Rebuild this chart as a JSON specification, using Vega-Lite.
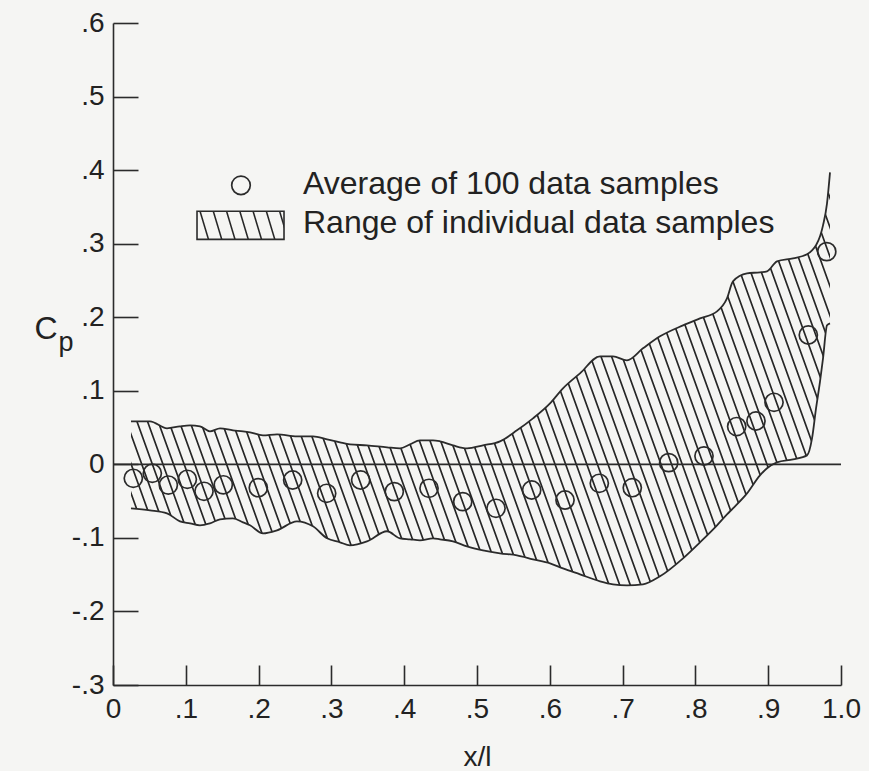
{
  "$schema": "https://vega.github.io/schema/vega-lite/v6.json",
  "width": 728,
  "height": 662,
  "autosize": {"type": "none"},
  "padding": {"left": 113, "top": 23, "right": 28, "bottom": 86},
  "background": "#f5f5f3",
  "data": {"values": [{}]},
  "config": {
    "view": {"stroke": null},
    "font": "Liberation Sans",
    "axis": {
      "grid": false,
      "domainColor": "#2b2b2b",
      "domainWidth": 1.6,
      "tickColor": "#2b2b2b",
      "tickWidth": 1.6,
      "labelFont": "Liberation Sans",
      "labelFontSize": 28,
      "labelColor": "#222222",
      "labelFlush": false,
      "labelOverlap": false,
      "titleFont": "Liberation Sans",
      "titleFontSize": 28,
      "titleFontWeight": "normal",
      "titleColor": "#222222"
    }
  },
  "datasets": {
    "band": [
      {"x": 0.0247, "lo": -0.0598, "hi": 0.0585},
      {"x": 0.0508, "lo": -0.0625, "hi": 0.0585},
      {"x": 0.0742, "lo": -0.0666, "hi": 0.0489},
      {"x": 0.0920, "lo": -0.0775, "hi": 0.0517},
      {"x": 0.1058, "lo": -0.0802, "hi": 0.0530},
      {"x": 0.1195, "lo": -0.0829, "hi": 0.0517},
      {"x": 0.1332, "lo": -0.0802, "hi": 0.0449},
      {"x": 0.1470, "lo": -0.0748, "hi": 0.0489},
      {"x": 0.1648, "lo": -0.0734, "hi": 0.0462},
      {"x": 0.1786, "lo": -0.0789, "hi": 0.0449},
      {"x": 0.1882, "lo": -0.0829, "hi": 0.0435},
      {"x": 0.2060, "lo": -0.0938, "hi": 0.0394},
      {"x": 0.2253, "lo": -0.0897, "hi": 0.0408},
      {"x": 0.2527, "lo": -0.0775, "hi": 0.0381},
      {"x": 0.2747, "lo": -0.0843, "hi": 0.0381},
      {"x": 0.2940, "lo": -0.1006, "hi": 0.0340},
      {"x": 0.3118, "lo": -0.1060, "hi": 0.0299},
      {"x": 0.3255, "lo": -0.1101, "hi": 0.0272},
      {"x": 0.3489, "lo": -0.1047, "hi": 0.0258},
      {"x": 0.3764, "lo": -0.0910, "hi": 0.0231},
      {"x": 0.3942, "lo": -0.1006, "hi": 0.0217},
      {"x": 0.4080, "lo": -0.1019, "hi": 0.0272},
      {"x": 0.4217, "lo": -0.1033, "hi": 0.0326},
      {"x": 0.4396, "lo": -0.1006, "hi": 0.0326},
      {"x": 0.4492, "lo": -0.1019, "hi": 0.0313},
      {"x": 0.4670, "lo": -0.1047, "hi": 0.0258},
      {"x": 0.4863, "lo": -0.1115, "hi": 0.0217},
      {"x": 0.5082, "lo": -0.1169, "hi": 0.0258},
      {"x": 0.5316, "lo": -0.1210, "hi": 0.0313},
      {"x": 0.5549, "lo": -0.1237, "hi": 0.0462},
      {"x": 0.5769, "lo": -0.1291, "hi": 0.0625},
      {"x": 0.6003, "lo": -0.1346, "hi": 0.0829},
      {"x": 0.6181, "lo": -0.1414, "hi": 0.1033},
      {"x": 0.6415, "lo": -0.1495, "hi": 0.1237},
      {"x": 0.6690, "lo": -0.1590, "hi": 0.1468},
      {"x": 0.6868, "lo": -0.1631, "hi": 0.1468},
      {"x": 0.7060, "lo": -0.1645, "hi": 0.1414},
      {"x": 0.7280, "lo": -0.1631, "hi": 0.1577},
      {"x": 0.7514, "lo": -0.1522, "hi": 0.1740},
      {"x": 0.7830, "lo": -0.1278, "hi": 0.1890},
      {"x": 0.8063, "lo": -0.1060, "hi": 0.1985},
      {"x": 0.8297, "lo": -0.0829, "hi": 0.2080},
      {"x": 0.8434, "lo": -0.0680, "hi": 0.2257},
      {"x": 0.8516, "lo": -0.0598, "hi": 0.2488},
      {"x": 0.8709, "lo": -0.0394, "hi": 0.2597},
      {"x": 0.8887, "lo": -0.0149, "hi": 0.2610},
      {"x": 0.8984, "lo": -0.0054, "hi": 0.2624},
      {"x": 0.9121, "lo": 0.0027, "hi": 0.2760},
      {"x": 0.9341, "lo": 0.0068, "hi": 0.2801},
      {"x": 0.9533, "lo": 0.0122, "hi": 0.2855},
      {"x": 0.9602, "lo": 0.0353, "hi": 0.2910},
      {"x": 0.9657, "lo": 0.0761, "hi": 0.2978},
      {"x": 0.9712, "lo": 0.1128, "hi": 0.3100},
      {"x": 0.9753, "lo": 0.1441, "hi": 0.3249},
      {"x": 0.9808, "lo": 0.1890, "hi": 0.3548},
      {"x": 0.9849, "lo": 0.1917, "hi": 0.3969}
    ],
    "avg": [
      {"x": 0.0279, "cp": -0.0190},
      {"x": 0.0540, "cp": -0.0122},
      {"x": 0.0760, "cp": -0.0282},
      {"x": 0.1021, "cp": -0.0204},
      {"x": 0.1250, "cp": -0.0367},
      {"x": 0.1515, "cp": -0.0279},
      {"x": 0.1996, "cp": -0.0317},
      {"x": 0.2468, "cp": -0.0213},
      {"x": 0.2935, "cp": -0.0394},
      {"x": 0.3402, "cp": -0.0213},
      {"x": 0.3864, "cp": -0.0371},
      {"x": 0.4341, "cp": -0.0326},
      {"x": 0.4804, "cp": -0.0507},
      {"x": 0.5261, "cp": -0.0598},
      {"x": 0.5751, "cp": -0.0349},
      {"x": 0.6209, "cp": -0.0485},
      {"x": 0.6680, "cp": -0.0258},
      {"x": 0.7133, "cp": -0.0317},
      {"x": 0.7633, "cp": 0.0023},
      {"x": 0.8118, "cp": 0.0113},
      {"x": 0.8567, "cp": 0.0513},
      {"x": 0.8832, "cp": 0.0589},
      {"x": 0.9080, "cp": 0.0843},
      {"x": 0.9551, "cp": 0.1758},
      {"x": 0.9804, "cp": 0.2892}
    ]
  },
  "layer": [
    {
      "data": {"name": "band"},
      "mark": {
        "type": "area",
        "interpolate": "monotone",
        "stroke": null,
        "fill": {
          "gradient": "linear",
          "x1": 0, "y1": 1, "x2": 1.1602, "y2": 0.7532,
          "stops": [
            {"offset": 0.0000, "color": "rgba(38,38,38,0)"}, {"offset": 0.0012, "color": "#262626"}, {"offset": 0.0021, "color": "#262626"}, {"offset": 0.0033, "color": "rgba(38,38,38,0)"},
            {"offset": 0.0125, "color": "rgba(38,38,38,0)"}, {"offset": 0.0137, "color": "#262626"}, {"offset": 0.0146, "color": "#262626"}, {"offset": 0.0158, "color": "rgba(38,38,38,0)"},
            {"offset": 0.0250, "color": "rgba(38,38,38,0)"}, {"offset": 0.0262, "color": "#262626"}, {"offset": 0.0271, "color": "#262626"}, {"offset": 0.0283, "color": "rgba(38,38,38,0)"},
            {"offset": 0.0375, "color": "rgba(38,38,38,0)"}, {"offset": 0.0387, "color": "#262626"}, {"offset": 0.0396, "color": "#262626"}, {"offset": 0.0408, "color": "rgba(38,38,38,0)"},
            {"offset": 0.0500, "color": "rgba(38,38,38,0)"}, {"offset": 0.0512, "color": "#262626"}, {"offset": 0.0521, "color": "#262626"}, {"offset": 0.0533, "color": "rgba(38,38,38,0)"},
            {"offset": 0.0625, "color": "rgba(38,38,38,0)"}, {"offset": 0.0637, "color": "#262626"}, {"offset": 0.0646, "color": "#262626"}, {"offset": 0.0658, "color": "rgba(38,38,38,0)"},
            {"offset": 0.0750, "color": "rgba(38,38,38,0)"}, {"offset": 0.0762, "color": "#262626"}, {"offset": 0.0771, "color": "#262626"}, {"offset": 0.0783, "color": "rgba(38,38,38,0)"},
            {"offset": 0.0875, "color": "rgba(38,38,38,0)"}, {"offset": 0.0887, "color": "#262626"}, {"offset": 0.0896, "color": "#262626"}, {"offset": 0.0908, "color": "rgba(38,38,38,0)"},
            {"offset": 0.1000, "color": "rgba(38,38,38,0)"}, {"offset": 0.1012, "color": "#262626"}, {"offset": 0.1021, "color": "#262626"}, {"offset": 0.1033, "color": "rgba(38,38,38,0)"},
            {"offset": 0.1125, "color": "rgba(38,38,38,0)"}, {"offset": 0.1137, "color": "#262626"}, {"offset": 0.1146, "color": "#262626"}, {"offset": 0.1158, "color": "rgba(38,38,38,0)"},
            {"offset": 0.1250, "color": "rgba(38,38,38,0)"}, {"offset": 0.1262, "color": "#262626"}, {"offset": 0.1271, "color": "#262626"}, {"offset": 0.1283, "color": "rgba(38,38,38,0)"},
            {"offset": 0.1375, "color": "rgba(38,38,38,0)"}, {"offset": 0.1387, "color": "#262626"}, {"offset": 0.1396, "color": "#262626"}, {"offset": 0.1408, "color": "rgba(38,38,38,0)"},
            {"offset": 0.1500, "color": "rgba(38,38,38,0)"}, {"offset": 0.1512, "color": "#262626"}, {"offset": 0.1521, "color": "#262626"}, {"offset": 0.1533, "color": "rgba(38,38,38,0)"},
            {"offset": 0.1625, "color": "rgba(38,38,38,0)"}, {"offset": 0.1637, "color": "#262626"}, {"offset": 0.1646, "color": "#262626"}, {"offset": 0.1658, "color": "rgba(38,38,38,0)"},
            {"offset": 0.1750, "color": "rgba(38,38,38,0)"}, {"offset": 0.1762, "color": "#262626"}, {"offset": 0.1771, "color": "#262626"}, {"offset": 0.1783, "color": "rgba(38,38,38,0)"},
            {"offset": 0.1875, "color": "rgba(38,38,38,0)"}, {"offset": 0.1887, "color": "#262626"}, {"offset": 0.1896, "color": "#262626"}, {"offset": 0.1908, "color": "rgba(38,38,38,0)"},
            {"offset": 0.2000, "color": "rgba(38,38,38,0)"}, {"offset": 0.2012, "color": "#262626"}, {"offset": 0.2021, "color": "#262626"}, {"offset": 0.2033, "color": "rgba(38,38,38,0)"},
            {"offset": 0.2125, "color": "rgba(38,38,38,0)"}, {"offset": 0.2137, "color": "#262626"}, {"offset": 0.2146, "color": "#262626"}, {"offset": 0.2158, "color": "rgba(38,38,38,0)"},
            {"offset": 0.2250, "color": "rgba(38,38,38,0)"}, {"offset": 0.2262, "color": "#262626"}, {"offset": 0.2271, "color": "#262626"}, {"offset": 0.2283, "color": "rgba(38,38,38,0)"},
            {"offset": 0.2375, "color": "rgba(38,38,38,0)"}, {"offset": 0.2387, "color": "#262626"}, {"offset": 0.2396, "color": "#262626"}, {"offset": 0.2408, "color": "rgba(38,38,38,0)"},
            {"offset": 0.2500, "color": "rgba(38,38,38,0)"}, {"offset": 0.2512, "color": "#262626"}, {"offset": 0.2521, "color": "#262626"}, {"offset": 0.2533, "color": "rgba(38,38,38,0)"},
            {"offset": 0.2625, "color": "rgba(38,38,38,0)"}, {"offset": 0.2637, "color": "#262626"}, {"offset": 0.2646, "color": "#262626"}, {"offset": 0.2658, "color": "rgba(38,38,38,0)"},
            {"offset": 0.2750, "color": "rgba(38,38,38,0)"}, {"offset": 0.2762, "color": "#262626"}, {"offset": 0.2771, "color": "#262626"}, {"offset": 0.2783, "color": "rgba(38,38,38,0)"},
            {"offset": 0.2875, "color": "rgba(38,38,38,0)"}, {"offset": 0.2887, "color": "#262626"}, {"offset": 0.2896, "color": "#262626"}, {"offset": 0.2908, "color": "rgba(38,38,38,0)"},
            {"offset": 0.3000, "color": "rgba(38,38,38,0)"}, {"offset": 0.3012, "color": "#262626"}, {"offset": 0.3021, "color": "#262626"}, {"offset": 0.3033, "color": "rgba(38,38,38,0)"},
            {"offset": 0.3125, "color": "rgba(38,38,38,0)"}, {"offset": 0.3137, "color": "#262626"}, {"offset": 0.3146, "color": "#262626"}, {"offset": 0.3158, "color": "rgba(38,38,38,0)"},
            {"offset": 0.3250, "color": "rgba(38,38,38,0)"}, {"offset": 0.3262, "color": "#262626"}, {"offset": 0.3271, "color": "#262626"}, {"offset": 0.3283, "color": "rgba(38,38,38,0)"},
            {"offset": 0.3375, "color": "rgba(38,38,38,0)"}, {"offset": 0.3387, "color": "#262626"}, {"offset": 0.3396, "color": "#262626"}, {"offset": 0.3408, "color": "rgba(38,38,38,0)"},
            {"offset": 0.3500, "color": "rgba(38,38,38,0)"}, {"offset": 0.3512, "color": "#262626"}, {"offset": 0.3521, "color": "#262626"}, {"offset": 0.3533, "color": "rgba(38,38,38,0)"},
            {"offset": 0.3625, "color": "rgba(38,38,38,0)"}, {"offset": 0.3637, "color": "#262626"}, {"offset": 0.3646, "color": "#262626"}, {"offset": 0.3658, "color": "rgba(38,38,38,0)"},
            {"offset": 0.3750, "color": "rgba(38,38,38,0)"}, {"offset": 0.3762, "color": "#262626"}, {"offset": 0.3771, "color": "#262626"}, {"offset": 0.3783, "color": "rgba(38,38,38,0)"},
            {"offset": 0.3875, "color": "rgba(38,38,38,0)"}, {"offset": 0.3887, "color": "#262626"}, {"offset": 0.3896, "color": "#262626"}, {"offset": 0.3908, "color": "rgba(38,38,38,0)"},
            {"offset": 0.4000, "color": "rgba(38,38,38,0)"}, {"offset": 0.4012, "color": "#262626"}, {"offset": 0.4021, "color": "#262626"}, {"offset": 0.4033, "color": "rgba(38,38,38,0)"},
            {"offset": 0.4125, "color": "rgba(38,38,38,0)"}, {"offset": 0.4137, "color": "#262626"}, {"offset": 0.4146, "color": "#262626"}, {"offset": 0.4158, "color": "rgba(38,38,38,0)"},
            {"offset": 0.4250, "color": "rgba(38,38,38,0)"}, {"offset": 0.4262, "color": "#262626"}, {"offset": 0.4271, "color": "#262626"}, {"offset": 0.4283, "color": "rgba(38,38,38,0)"},
            {"offset": 0.4375, "color": "rgba(38,38,38,0)"}, {"offset": 0.4387, "color": "#262626"}, {"offset": 0.4396, "color": "#262626"}, {"offset": 0.4408, "color": "rgba(38,38,38,0)"},
            {"offset": 0.4500, "color": "rgba(38,38,38,0)"}, {"offset": 0.4512, "color": "#262626"}, {"offset": 0.4521, "color": "#262626"}, {"offset": 0.4533, "color": "rgba(38,38,38,0)"},
            {"offset": 0.4625, "color": "rgba(38,38,38,0)"}, {"offset": 0.4637, "color": "#262626"}, {"offset": 0.4646, "color": "#262626"}, {"offset": 0.4658, "color": "rgba(38,38,38,0)"},
            {"offset": 0.4750, "color": "rgba(38,38,38,0)"}, {"offset": 0.4762, "color": "#262626"}, {"offset": 0.4771, "color": "#262626"}, {"offset": 0.4783, "color": "rgba(38,38,38,0)"},
            {"offset": 0.4875, "color": "rgba(38,38,38,0)"}, {"offset": 0.4887, "color": "#262626"}, {"offset": 0.4896, "color": "#262626"}, {"offset": 0.4908, "color": "rgba(38,38,38,0)"},
            {"offset": 0.5000, "color": "rgba(38,38,38,0)"}, {"offset": 0.5012, "color": "#262626"}, {"offset": 0.5021, "color": "#262626"}, {"offset": 0.5033, "color": "rgba(38,38,38,0)"},
            {"offset": 0.5125, "color": "rgba(38,38,38,0)"}, {"offset": 0.5137, "color": "#262626"}, {"offset": 0.5146, "color": "#262626"}, {"offset": 0.5158, "color": "rgba(38,38,38,0)"},
            {"offset": 0.5250, "color": "rgba(38,38,38,0)"}, {"offset": 0.5262, "color": "#262626"}, {"offset": 0.5271, "color": "#262626"}, {"offset": 0.5283, "color": "rgba(38,38,38,0)"},
            {"offset": 0.5375, "color": "rgba(38,38,38,0)"}, {"offset": 0.5387, "color": "#262626"}, {"offset": 0.5396, "color": "#262626"}, {"offset": 0.5408, "color": "rgba(38,38,38,0)"},
            {"offset": 0.5500, "color": "rgba(38,38,38,0)"}, {"offset": 0.5512, "color": "#262626"}, {"offset": 0.5521, "color": "#262626"}, {"offset": 0.5533, "color": "rgba(38,38,38,0)"},
            {"offset": 0.5625, "color": "rgba(38,38,38,0)"}, {"offset": 0.5637, "color": "#262626"}, {"offset": 0.5646, "color": "#262626"}, {"offset": 0.5658, "color": "rgba(38,38,38,0)"},
            {"offset": 0.5750, "color": "rgba(38,38,38,0)"}, {"offset": 0.5762, "color": "#262626"}, {"offset": 0.5771, "color": "#262626"}, {"offset": 0.5783, "color": "rgba(38,38,38,0)"},
            {"offset": 0.5875, "color": "rgba(38,38,38,0)"}, {"offset": 0.5887, "color": "#262626"}, {"offset": 0.5896, "color": "#262626"}, {"offset": 0.5908, "color": "rgba(38,38,38,0)"},
            {"offset": 0.6000, "color": "rgba(38,38,38,0)"}, {"offset": 0.6012, "color": "#262626"}, {"offset": 0.6021, "color": "#262626"}, {"offset": 0.6033, "color": "rgba(38,38,38,0)"},
            {"offset": 0.6125, "color": "rgba(38,38,38,0)"}, {"offset": 0.6137, "color": "#262626"}, {"offset": 0.6146, "color": "#262626"}, {"offset": 0.6158, "color": "rgba(38,38,38,0)"},
            {"offset": 0.6250, "color": "rgba(38,38,38,0)"}, {"offset": 0.6262, "color": "#262626"}, {"offset": 0.6271, "color": "#262626"}, {"offset": 0.6283, "color": "rgba(38,38,38,0)"},
            {"offset": 0.6375, "color": "rgba(38,38,38,0)"}, {"offset": 0.6387, "color": "#262626"}, {"offset": 0.6396, "color": "#262626"}, {"offset": 0.6408, "color": "rgba(38,38,38,0)"},
            {"offset": 0.6500, "color": "rgba(38,38,38,0)"}, {"offset": 0.6512, "color": "#262626"}, {"offset": 0.6521, "color": "#262626"}, {"offset": 0.6533, "color": "rgba(38,38,38,0)"},
            {"offset": 0.6625, "color": "rgba(38,38,38,0)"}, {"offset": 0.6637, "color": "#262626"}, {"offset": 0.6646, "color": "#262626"}, {"offset": 0.6658, "color": "rgba(38,38,38,0)"},
            {"offset": 0.6750, "color": "rgba(38,38,38,0)"}, {"offset": 0.6762, "color": "#262626"}, {"offset": 0.6771, "color": "#262626"}, {"offset": 0.6783, "color": "rgba(38,38,38,0)"},
            {"offset": 0.6875, "color": "rgba(38,38,38,0)"}, {"offset": 0.6887, "color": "#262626"}, {"offset": 0.6896, "color": "#262626"}, {"offset": 0.6908, "color": "rgba(38,38,38,0)"},
            {"offset": 0.7000, "color": "rgba(38,38,38,0)"}, {"offset": 0.7012, "color": "#262626"}, {"offset": 0.7021, "color": "#262626"}, {"offset": 0.7033, "color": "rgba(38,38,38,0)"},
            {"offset": 0.7125, "color": "rgba(38,38,38,0)"}, {"offset": 0.7137, "color": "#262626"}, {"offset": 0.7146, "color": "#262626"}, {"offset": 0.7158, "color": "rgba(38,38,38,0)"},
            {"offset": 0.7250, "color": "rgba(38,38,38,0)"}, {"offset": 0.7262, "color": "#262626"}, {"offset": 0.7271, "color": "#262626"}, {"offset": 0.7283, "color": "rgba(38,38,38,0)"},
            {"offset": 0.7375, "color": "rgba(38,38,38,0)"}, {"offset": 0.7387, "color": "#262626"}, {"offset": 0.7396, "color": "#262626"}, {"offset": 0.7408, "color": "rgba(38,38,38,0)"},
            {"offset": 0.7500, "color": "rgba(38,38,38,0)"}, {"offset": 0.7512, "color": "#262626"}, {"offset": 0.7521, "color": "#262626"}, {"offset": 0.7533, "color": "rgba(38,38,38,0)"},
            {"offset": 0.7625, "color": "rgba(38,38,38,0)"}, {"offset": 0.7637, "color": "#262626"}, {"offset": 0.7646, "color": "#262626"}, {"offset": 0.7658, "color": "rgba(38,38,38,0)"},
            {"offset": 0.7750, "color": "rgba(38,38,38,0)"}, {"offset": 0.7762, "color": "#262626"}, {"offset": 0.7771, "color": "#262626"}, {"offset": 0.7783, "color": "rgba(38,38,38,0)"},
            {"offset": 0.7875, "color": "rgba(38,38,38,0)"}, {"offset": 0.7887, "color": "#262626"}, {"offset": 0.7896, "color": "#262626"}, {"offset": 0.7908, "color": "rgba(38,38,38,0)"},
            {"offset": 0.8000, "color": "rgba(38,38,38,0)"}, {"offset": 0.8012, "color": "#262626"}, {"offset": 0.8021, "color": "#262626"}, {"offset": 0.8033, "color": "rgba(38,38,38,0)"},
            {"offset": 0.8125, "color": "rgba(38,38,38,0)"}, {"offset": 0.8137, "color": "#262626"}, {"offset": 0.8146, "color": "#262626"}, {"offset": 0.8158, "color": "rgba(38,38,38,0)"},
            {"offset": 0.8250, "color": "rgba(38,38,38,0)"}, {"offset": 0.8262, "color": "#262626"}, {"offset": 0.8271, "color": "#262626"}, {"offset": 0.8283, "color": "rgba(38,38,38,0)"},
            {"offset": 0.8375, "color": "rgba(38,38,38,0)"}, {"offset": 0.8387, "color": "#262626"}, {"offset": 0.8396, "color": "#262626"}, {"offset": 0.8408, "color": "rgba(38,38,38,0)"},
            {"offset": 0.8500, "color": "rgba(38,38,38,0)"}, {"offset": 0.8512, "color": "#262626"}, {"offset": 0.8521, "color": "#262626"}, {"offset": 0.8533, "color": "rgba(38,38,38,0)"},
            {"offset": 0.8625, "color": "rgba(38,38,38,0)"}, {"offset": 0.8637, "color": "#262626"}, {"offset": 0.8646, "color": "#262626"}, {"offset": 0.8658, "color": "rgba(38,38,38,0)"},
            {"offset": 0.8750, "color": "rgba(38,38,38,0)"}, {"offset": 0.8762, "color": "#262626"}, {"offset": 0.8771, "color": "#262626"}, {"offset": 0.8783, "color": "rgba(38,38,38,0)"},
            {"offset": 0.8875, "color": "rgba(38,38,38,0)"}, {"offset": 0.8887, "color": "#262626"}, {"offset": 0.8896, "color": "#262626"}, {"offset": 0.8908, "color": "rgba(38,38,38,0)"},
            {"offset": 0.9000, "color": "rgba(38,38,38,0)"}, {"offset": 0.9012, "color": "#262626"}, {"offset": 0.9021, "color": "#262626"}, {"offset": 0.9033, "color": "rgba(38,38,38,0)"},
            {"offset": 0.9125, "color": "rgba(38,38,38,0)"}, {"offset": 0.9137, "color": "#262626"}, {"offset": 0.9146, "color": "#262626"}, {"offset": 0.9158, "color": "rgba(38,38,38,0)"},
            {"offset": 0.9250, "color": "rgba(38,38,38,0)"}, {"offset": 0.9262, "color": "#262626"}, {"offset": 0.9271, "color": "#262626"}, {"offset": 0.9283, "color": "rgba(38,38,38,0)"},
            {"offset": 0.9375, "color": "rgba(38,38,38,0)"}, {"offset": 0.9387, "color": "#262626"}, {"offset": 0.9396, "color": "#262626"}, {"offset": 0.9408, "color": "rgba(38,38,38,0)"},
            {"offset": 0.9500, "color": "rgba(38,38,38,0)"}, {"offset": 0.9512, "color": "#262626"}, {"offset": 0.9521, "color": "#262626"}, {"offset": 0.9533, "color": "rgba(38,38,38,0)"},
            {"offset": 0.9625, "color": "rgba(38,38,38,0)"}, {"offset": 0.9637, "color": "#262626"}, {"offset": 0.9646, "color": "#262626"}, {"offset": 0.9658, "color": "rgba(38,38,38,0)"},
            {"offset": 0.9750, "color": "rgba(38,38,38,0)"}, {"offset": 0.9762, "color": "#262626"}, {"offset": 0.9771, "color": "#262626"}, {"offset": 0.9783, "color": "rgba(38,38,38,0)"},
            {"offset": 0.9875, "color": "rgba(38,38,38,0)"}, {"offset": 0.9887, "color": "#262626"}, {"offset": 0.9896, "color": "#262626"}, {"offset": 0.9908, "color": "rgba(38,38,38,0)"}
          ]
        }
      },
      "encoding": {
        "x": {
          "field": "x", "type": "quantitative",
          "scale": {"domain": [0, 1], "nice": false, "zero": false},
          "axis": {
            "title": "x/l",
            "values": [0, 0.1, 0.2, 0.3, 0.4, 0.5, 0.6, 0.7, 0.8, 0.9, 1],
            "labelExpr": "datum.value == 0 ? '0' : (datum.value < 0 ? '-' : '') + replace(format(abs(datum.value), '.1f'), '0.', '.')",
            "tickSize": -20,
            "labelPadding": 30,
            "titlePadding": 20
          }
        },
        "y": {
          "field": "lo", "type": "quantitative",
          "scale": {"domain": [-0.3, 0.6], "nice": false, "zero": false},
          "axis": {
            "title": null,
            "values": [-0.3, -0.2, -0.1, 0, 0.1, 0.2, 0.3, 0.4, 0.5, 0.6],
            "labelExpr": "datum.value == 0 ? '0' : (datum.value < 0 ? '-' : '') + replace(format(abs(datum.value), '.1f'), '0.', '.')",
            "tickSize": -25,
            "labelPadding": 34
          }
        },
        "y2": {"field": "hi"}
      }
    },
    {
      "data": {"name": "band"},
      "mark": {"type": "line", "interpolate": "monotone", "color": "#2b2b2b", "strokeWidth": 1.8},
      "encoding": {
        "x": {"field": "x", "type": "quantitative", "title": "x/l"},
        "y": {"field": "hi", "type": "quantitative", "title": null}
      }
    },
    {
      "data": {"name": "band"},
      "mark": {"type": "line", "interpolate": "monotone", "color": "#2b2b2b", "strokeWidth": 1.8},
      "encoding": {
        "x": {"field": "x", "type": "quantitative", "title": "x/l"},
        "y": {"field": "lo", "type": "quantitative", "title": null}
      }
    },
    {
      "mark": {"type": "rule", "color": "#2b2b2b", "strokeWidth": 1.6},
      "encoding": {"y": {"datum": 0}}
    },
    {
      "data": {"name": "avg"},
      "mark": {"type": "point", "shape": "circle", "filled": false, "size": 330, "color": "#2b2b2b", "strokeWidth": 1.7, "opacity": 1},
      "encoding": {
        "x": {"field": "x", "type": "quantitative", "title": "x/l"},
        "y": {"field": "cp", "type": "quantitative", "title": null}
      }
    },
    {
      "mark": {"type": "point", "shape": "circle", "filled": false, "size": 346, "color": "#2b2b2b", "strokeWidth": 1.7, "opacity": 1},
      "encoding": {"x": {"datum": 0.1758}, "y": {"datum": 0.3793}}
    },
    {
      "mark": {
        "type": "rect",
        "stroke": "#2b2b2b",
        "strokeWidth": 1.6,
        "fill": {
          "gradient": "linear",
          "x1": 0, "y1": 1, "x2": 1.0865, "y2": 0.895,
          "stops": [
            {"offset": 0.106, "color": "rgba(38,38,38,0)"}, {"offset": 0.117, "color": "#262626"}, {"offset": 0.123, "color": "#262626"}, {"offset": 0.134, "color": "rgba(38,38,38,0)"},
            {"offset": 0.245, "color": "rgba(38,38,38,0)"}, {"offset": 0.256, "color": "#262626"}, {"offset": 0.262, "color": "#262626"}, {"offset": 0.273, "color": "rgba(38,38,38,0)"},
            {"offset": 0.384, "color": "rgba(38,38,38,0)"}, {"offset": 0.395, "color": "#262626"}, {"offset": 0.401, "color": "#262626"}, {"offset": 0.412, "color": "rgba(38,38,38,0)"},
            {"offset": 0.523, "color": "rgba(38,38,38,0)"}, {"offset": 0.534, "color": "#262626"}, {"offset": 0.540, "color": "#262626"}, {"offset": 0.551, "color": "rgba(38,38,38,0)"},
            {"offset": 0.662, "color": "rgba(38,38,38,0)"}, {"offset": 0.673, "color": "#262626"}, {"offset": 0.679, "color": "#262626"}, {"offset": 0.690, "color": "rgba(38,38,38,0)"},
            {"offset": 0.801, "color": "rgba(38,38,38,0)"}, {"offset": 0.812, "color": "#262626"}, {"offset": 0.818, "color": "#262626"}, {"offset": 0.829, "color": "rgba(38,38,38,0)"},
            {"offset": 0.940, "color": "rgba(38,38,38,0)"}, {"offset": 0.951, "color": "#262626"}, {"offset": 0.957, "color": "#262626"}, {"offset": 0.968, "color": "rgba(38,38,38,0)"}
          ]
        }
      },
      "encoding": {
        "x": {"datum": 0.1154}, "x2": {"datum": 0.2349},
        "y": {"datum": 0.3059}, "y2": {"datum": 0.3440}
      }
    },
    {
      "mark": {"type": "text", "text": "Average of 100 data samples", "align": "left", "baseline": "middle", "fontSize": 32, "color": "#222222"},
      "encoding": {"x": {"datum": 0.261}, "y": {"datum": 0.3807}}
    },
    {
      "mark": {"type": "text", "text": "Range of individual data samples", "align": "left", "baseline": "middle", "fontSize": 32, "color": "#222222"},
      "encoding": {"x": {"datum": 0.261}, "y": {"datum": 0.3276}}
    },
    {
      "mark": {"type": "text", "text": "C", "align": "center", "baseline": "middle", "fontSize": 32, "color": "#222222"},
      "encoding": {"x": {"datum": -0.092}, "y": {"datum": 0.1835}}
    },
    {
      "mark": {"type": "text", "text": "p", "align": "center", "baseline": "middle", "fontSize": 27, "color": "#222222"},
      "encoding": {"x": {"datum": -0.0646}, "y": {"datum": 0.1645}}
    }
  ]
}
